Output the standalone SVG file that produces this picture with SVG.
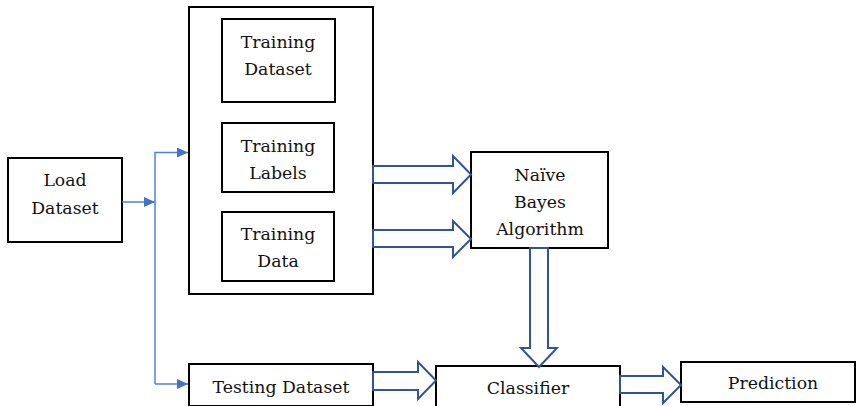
<svg xmlns="http://www.w3.org/2000/svg" width="856" height="406" viewBox="0 0 856 406">
  <style>
    .box { fill: #ffffff; stroke: #000000; stroke-width: 2; }
    .lbl { font-family: 'DejaVu Serif', 'Liberation Serif', serif; font-size: 17.3px; fill: #111111; text-anchor: middle; }
    .thin { fill: none; stroke: #4f81d2; stroke-width: 1.5; }
    .block { fill: #ffffff; stroke: #2f5597; stroke-width: 2; stroke-linejoin: miter; }
  </style>
  <defs>
    <marker id="tri" viewBox="0 0 10 10" refX="10" refY="5" markerWidth="11" markerHeight="10" markerUnits="userSpaceOnUse" orient="auto" preserveAspectRatio="none">
      <path d="M0,0 L10,5 L0,10 z" fill="#4472c4"/>
    </marker>
  </defs>

  <rect width="856" height="406" fill="#ffffff"/>

  <g id="load-dataset">
    <rect class="box" x="8" y="158" width="114" height="84"/>
    <text class="lbl" x="65" y="186">Load</text>
    <text class="lbl" x="65" y="214">Dataset</text>
  </g>

  <g id="training-group">
    <rect class="box" x="189" y="7" width="184" height="287"/>
  </g>

  <g id="training-dataset">
    <rect class="box" x="222" y="19" width="113" height="83"/>
    <text class="lbl" x="278" y="48">Training</text>
    <text class="lbl" x="278" y="75">Dataset</text>
  </g>

  <g id="training-labels">
    <rect class="box" x="222" y="123" width="112" height="69"/>
    <text class="lbl" x="278" y="152">Training</text>
    <text class="lbl" x="278" y="179">Labels</text>
  </g>

  <g id="training-data">
    <rect class="box" x="222" y="212" width="112" height="69"/>
    <text class="lbl" x="278" y="240">Training</text>
    <text class="lbl" x="278" y="267">Data</text>
  </g>

  <g id="naive-bayes">
    <rect class="box" x="471" y="152" width="137" height="96"/>
    <text class="lbl" x="540" y="181">Naïve</text>
    <text class="lbl" x="540" y="208">Bayes</text>
    <text class="lbl" x="540" y="235">Algorithm</text>
  </g>

  <g id="testing-dataset">
    <rect class="box" x="189" y="364" width="184" height="42"/>
    <text class="lbl" x="281" y="393">Testing Dataset</text>
  </g>

  <g id="classifier">
    <rect class="box" x="436" y="366" width="184" height="42"/>
    <text class="lbl" x="528" y="394">Classifier</text>
  </g>

  <g id="prediction">
    <rect class="box" x="681" y="362" width="174" height="40"/>
    <text class="lbl" x="773" y="389">Prediction</text>
  </g>

  <g id="connectors">
    <!-- thin split from the loader to both branches -->
    <line class="thin" x1="122" y1="202" x2="155" y2="202" marker-end="url(#tri)"/>
    <polyline class="thin" points="155,384 155,152.5 188,152.5" marker-end="url(#tri)"/>
    <line class="thin" x1="155" y1="384" x2="188" y2="384" marker-end="url(#tri)"/>

    <!-- hollow block arrows -->
    <polygon class="block" points="373,166 453,166 453,156 471,174.5 453,193 453,183 373,183"/>
    <polygon class="block" points="373,230 453,230 453,221 471,239 453,257 453,247 373,247"/>
    <polygon class="block" points="530,248 548,248 548,348 557,348 539,367 521,348 530,348"/>
    <polygon class="block" points="373,372 418,372 418,362 436,380.5 418,399 418,390 373,390"/>
    <polygon class="block" points="620,376 663,376 663,367 681,385 663,403 663,393 620,393"/>
  </g>
</svg>
